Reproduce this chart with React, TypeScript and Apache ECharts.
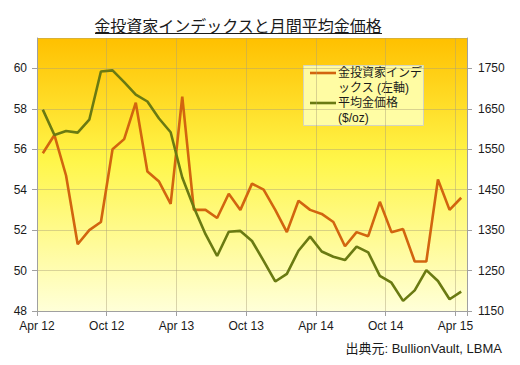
import React, { useEffect, useRef } from "react";
import * as echarts from "echarts";

const titleText = "金投資家インデックスと月間平均金価格";
const sourceText = "出典元: BullionVault, LBMA";
const seriesNames = ["金投資家インデックス (左軸)", "平均金価格 ($/oz)"];
const legendLines = [["金投資家インデ", "ックス (左軸)"], ["平均金価格", "($/oz)"]];
const tickLabels = ["Apr 12", "Oct 12", "Apr 13", "Oct 13", "Apr 14", "Oct 14", "Apr 15"];
const leftTicks = [48, 50, 52, 54, 56, 58, 60];
const rightTicks = [1150, 1250, 1350, 1450, 1550, 1650, 1750];

// Monthly, Apr 2012 .. Apr 2015
const investorIndex = [
  55.8, 56.7, 54.7, 51.3, 52.0, 52.4, 56.0, 56.5, 58.3, 54.9, 54.4, 53.3,
  58.6, 53.0, 53.0, 52.6, 53.8, 53.0, 54.3, 54.0, 53.0, 51.9, 53.45, 53.0,
  52.8, 52.4, 51.2, 51.9, 51.7, 53.4, 51.9, 52.05, 50.45, 50.45, 54.5, 53.0,
  53.6,
];
const goldPrice = [
  1648, 1585, 1595, 1591, 1623, 1742, 1745, 1716, 1685, 1668, 1626, 1592,
  1480, 1406, 1340, 1286, 1346, 1348, 1323, 1274, 1223, 1242, 1299, 1334,
  1297, 1284, 1276, 1309, 1295, 1237, 1220, 1175, 1201, 1251, 1224, 1179,
  1198,
];

const FONT = 'Arial, "Liberation Sans", "Noto Sans CJK JP", sans-serif';
const CJK = '"Noto Sans CJK JP", "Liberation Sans", sans-serif';
const ORANGE = "#D2650F";
const GREEN = "#6A7A12";

export default function App() {
  const ref = useRef<HTMLDivElement>(null);
  useEffect(() => {
    document.body.style.margin = "0";
    if (!ref.current) return;
    const chart = echarts.init(ref.current, null, { renderer: "svg" });
    const nMonths = investorIndex.length;
    const toXY = (arr: number[]) => arr.map((v, i) => [i + 0.5, v]);
    chart.setOption({
      animation: false,
      backgroundColor: "#ffffff",
      grid: {
        left: 37,
        right: 53,
        top: 38,
        bottom: 54,
        show: true,
        borderWidth: 0,
        backgroundColor: new echarts.graphic.LinearGradient(0, 0, 0, 1, [
          { offset: 0, color: "#FFC000" },
          { offset: 0.45, color: "#FFF64A" },
          { offset: 1, color: "#FFFFD8" },
        ]),
      },
      xAxis: {
        type: "value",
        min: 0,
        max: nMonths,
        interval: 6,
        axisLine: { show: true, lineStyle: { color: "#A0A0A0", width: 1 } },
        axisTick: { show: true, inside: false, length: 5, lineStyle: { color: "#A0A0A0" } },
        splitLine: { show: true, lineStyle: { color: "rgba(170,160,120,0.45)", width: 1 } },
        axisLabel: {
          margin: 9,
          color: "#1a1a1a",
          fontSize: 12,
          fontFamily: FONT,
          formatter: (v: number) => (v % 6 === 0 ? tickLabels[v / 6] ?? "" : ""),
        },
      },
      yAxis: [
        {
          type: "value",
          min: leftTicks[0],
          max: 61.5,
          interval: 2,
          axisLine: { show: true, lineStyle: { color: "#A0A0A0" } },
          axisTick: { show: true, length: 5, lineStyle: { color: "#A0A0A0" } },
          splitLine: { show: true, lineStyle: { color: "rgba(170,160,120,0.45)" } },
          axisLabel: {
            margin: 10,
            color: "#1a1a1a",
            fontSize: 12,
            fontFamily: FONT,
            showMaxLabel: false,
            formatter: (v: number) => (leftTicks.includes(v) ? String(v) : ""),
          },
        },
        {
          type: "value",
          position: "right",
          min: rightTicks[0],
          max: 1825,
          interval: 100,
          axisLine: { show: true, lineStyle: { color: "#A0A0A0" } },
          axisTick: { show: true, length: 5, lineStyle: { color: "#A0A0A0" } },
          splitLine: { show: false },
          axisLabel: {
            margin: 11,
            color: "#1a1a1a",
            fontSize: 12,
            fontFamily: FONT,
            showMaxLabel: false,
            formatter: (v: number) => (rightTicks.includes(v) ? String(v) : ""),
          },
        },
      ],
      series: [
        {
          name: seriesNames[0],
          type: "line",
          yAxisIndex: 0,
          data: toXY(investorIndex),
          showSymbol: false,
          lineStyle: { color: ORANGE, width: 2.6 },
          itemStyle: { color: ORANGE },
        },
        {
          name: seriesNames[1],
          type: "line",
          yAxisIndex: 1,
          data: toXY(goldPrice),
          showSymbol: false,
          lineStyle: { color: GREEN, width: 2.6 },
          itemStyle: { color: GREEN },
        },
      ],
      graphic: [
        {
          type: "text",
          x: 238,
          y: 25,
          style: {
            text: titleText,
            fill: "#1a1a1a",
            fontSize: 16,
            fontFamily: CJK,
            align: "center",
            verticalAlign: "middle",
          },
        },
        {
          type: "line",
          shape: { x1: 95, y1: 33.5, x2: 382, y2: 33.5 },
          style: { stroke: "#1a1a1a", lineWidth: 1 },
        },
        {
          type: "rect",
          shape: { x: 303.5, y: 65.5, width: 120, height: 60 },
          style: { fill: "rgba(255,255,175,0.92)", stroke: "#D4D4C0", lineWidth: 1 },
        },
        {
          type: "line",
          shape: { x1: 310, y1: 73, x2: 336, y2: 73 },
          style: { stroke: ORANGE, lineWidth: 2.6 },
        },
        {
          type: "line",
          shape: { x1: 310, y1: 103, x2: 336, y2: 103 },
          style: { stroke: GREEN, lineWidth: 2.6 },
        },
        {
          type: "text",
          x: 338,
          y: 73,
          style: { text: legendLines[0][0], fill: "#1a1a1a", fontSize: 12, fontFamily: FONT, verticalAlign: "middle" },
        },
        {
          type: "text",
          x: 338,
          y: 88,
          style: { text: legendLines[0][1], fill: "#1a1a1a", fontSize: 12, fontFamily: FONT, verticalAlign: "middle" },
        },
        {
          type: "text",
          x: 338,
          y: 103,
          style: { text: legendLines[1][0], fill: "#1a1a1a", fontSize: 12, fontFamily: FONT, verticalAlign: "middle" },
        },
        {
          type: "text",
          x: 338,
          y: 118,
          style: { text: legendLines[1][1], fill: "#1a1a1a", fontSize: 12, fontFamily: FONT, verticalAlign: "middle" },
        },
        {
          type: "text",
          x: 502,
          y: 348,
          style: {
            text: sourceText,
            fill: "#1a1a1a",
            fontSize: 13,
            fontFamily: FONT,
            align: "right",
            verticalAlign: "middle",
          },
        },
      ],
    });
    return () => chart.dispose();
  }, []);
  return <div ref={ref} style={{ width: 520, height: 365 }} />;
}
